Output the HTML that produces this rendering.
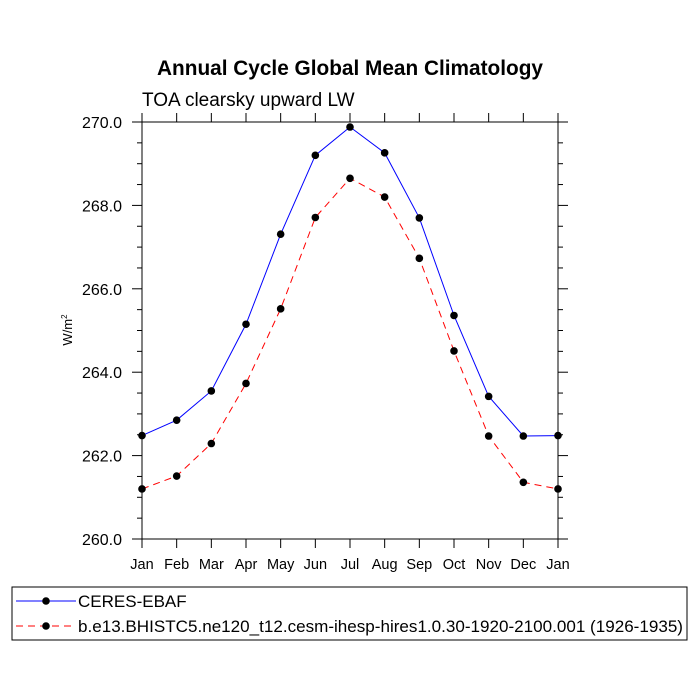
<!DOCTYPE html>
<html><head><meta charset="utf-8"><style>
body{margin:0;background:#fff;}
svg{display:block;font-family:"Liberation Sans",sans-serif;}
</style></head><body>
<svg id="c" width="700" height="700" viewBox="0 0 700 700">
<text x="350" y="75" text-anchor="middle" font-size="20.8" font-weight="bold">Annual Cycle Global Mean Climatology</text>
<text x="142" y="106" font-size="19">TOA clearsky upward LW</text>
<text transform="translate(72,330) rotate(-90)" text-anchor="middle" font-size="13">W/m<tspan dy="-5" font-size="8">2</tspan></text>
<g id="ax"></g>
<g id="marks"></g>
<rect x="12" y="587" width="675" height="53" fill="none" stroke="#000" stroke-width="1"/>
<g>
<line x1="16" y1="601" x2="76" y2="601" stroke="#00f"/><circle cx="46" cy="601" r="3.8"/>
<text x="78" y="607" font-size="17">CERES-EBAF</text></g>
<g>
<line x1="16" y1="626" x2="76" y2="626" stroke="#f00" stroke-dasharray="7,5"/><circle cx="46" cy="626" r="3.8"/>
<text x="78" y="632" font-size="17" textLength="605" lengthAdjust="spacingAndGlyphs">b.e13.BHISTC5.ne120_t12.cesm-ihesp-hires1.0.30-1920-2100.001 (1926-1935)</text></g>
</svg>
<script>
const months=["Jan","Feb","Mar","Apr","May","Jun","Jul","Aug","Sep","Oct","Nov","Dec","Jan"];
const ceres=[262.48,262.85,263.55,265.15,267.31,269.2,269.88,269.26,267.7,265.36,263.42,262.47,262.48];
const model=[261.2,261.51,262.29,263.73,265.52,267.71,268.65,268.2,266.73,264.51,262.47,261.36,261.2];
const yTicks=[260,262,264,266,268,270];
const yTickLabels=["260.0","262.0","264.0","266.0","268.0","270.0"];
const X0=142,X1=558,Y0=539,Y1=122,ymin=260,ymax=270;
const ns="http://www.w3.org/2000/svg";
function xs(i){return X0+(X1-X0)*i/(months.length-1);}
function ys(v){return Y0-(Y0-Y1)*(v-ymin)/(ymax-ymin);}
function mk(t,a,p){const e=document.createElementNS(ns,t);for(const k in a)e.setAttribute(k,a[k]);(p||document.getElementById('ax')).appendChild(e);return e;}
const fr=mk('rect',{x:X0,y:Y1,width:X1-X0,height:Y0-Y1,fill:'none',stroke:'#000','stroke-width':1});


months.forEach((m,i)=>{const x=xs(i);
mk('line',{x1:x,y1:Y0,x2:x,y2:Y0+9,stroke:'#000'});
mk('line',{x1:x,y1:Y1,x2:x,y2:Y1-9,stroke:'#000'});
const t=mk('text',{x:x,y:Y0+30,'text-anchor':'middle','font-size':14.5});t.textContent=m;

});
for(let v=ymin;v<=ymax+1e-9;v+=0.5){const y=ys(v);const major=Math.abs(v-Math.round(v/2)*2)<1e-9;const L=major?10:5;
mk('line',{x1:X0,y1:y,x2:X0-L,y2:y,stroke:'#000'});mk('line',{x1:X1,y1:y,x2:X1+L,y2:y,stroke:'#000'});}
yTicks.forEach((v,i)=>{const t=mk('text',{x:X0-20,y:ys(v)+6,'text-anchor':'end','font-size':16});t.textContent=yTickLabels[i];

});
const g=document.getElementById('marks');
function series(d,col,dash,name){
const pl=mk('polyline',{points:d.map((v,i)=>xs(i)+','+ys(v)).join(' '),fill:'none',stroke:col,'stroke-width':1,'stroke-dasharray':dash},g);


d.forEach((v,i)=>{const c=mk('circle',{cx:xs(i),cy:ys(v),r:3.8,fill:'#000'},g);

});}
series(ceres,'#00f','none','ceres');
series(model,'#f00','7,5','model');
</script>
</body></html>
